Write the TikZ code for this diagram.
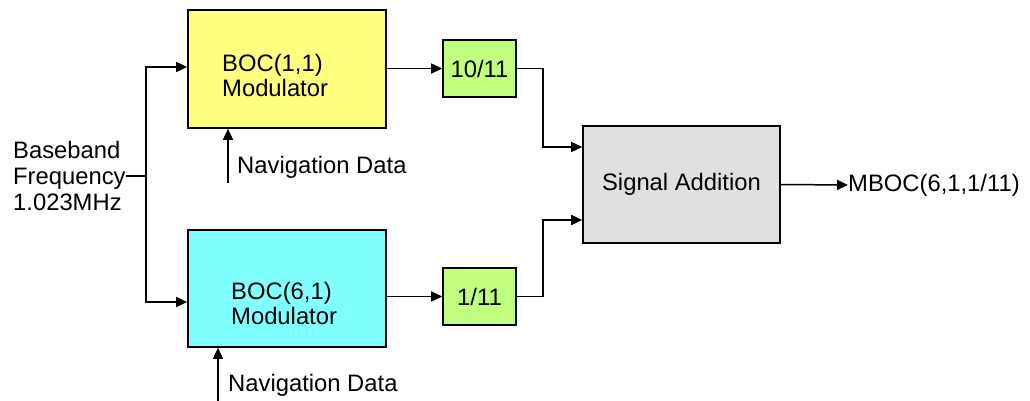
\documentclass[tikz,border=0pt]{standalone}
\usepackage{fontspec}
\setmainfont{Liberation Sans}
\usetikzlibrary{arrows.meta}
\definecolor{modyellow}{HTML}{FFFF80}
\definecolor{modcyan}{HTML}{80FFFF}
\definecolor{gaingreen}{HTML}{C0FF80}
\definecolor{sumgray}{HTML}{E0E0E0}
\begin{document}
\begin{tikzpicture}[
  x={(1pt,0pt)},
  y={(0pt,-1pt)},
  font=\fontsize{23.8}{25}\selectfont,
  box/.style={draw, line width=1.6pt, inner sep=0pt},
  txt/.style={inner sep=0pt, align=left, anchor=west},
  arr/.style={line width=1.5pt, -{Triangle[length=11pt,width=10pt]}},
  wire/.style={line width=1.5pt}
]
\useasboundingbox (0,0) rectangle (1030,401);
% blocks
\node[box, fill=modyellow, minimum width=198, minimum height=118] (boc1) at (287,69) {};
\node[box, fill=modcyan, minimum width=198, minimum height=117] (boc6) at (287,288.5) {};
\node[box, fill=gaingreen, minimum width=73, minimum height=57] (g1) at (479.5,68.5) {10/11};
\node[box, fill=gaingreen, minimum width=73, minimum height=57] (g2) at (479.5,296.5) {1/11};
\node[box, fill=sumgray, minimum width=197, minimum height=117] (sum) at (681.5,184.5) {Signal Addition};
\node[txt] (boc1t) at (222,75) {BOC(1,1)\\Modulator};
\node[txt] (boc6t) at (231,303) {BOC(6,1)\\Modulator};
% texts outside
\node[txt, font=\fontsize{23.8}{26}\selectfont] (bb) at (13,176) {Baseband\\Frequency\\1.023MHz};
\node[txt] (nav1) at (237,167) {Navigation Data};
\node[txt] (nav6) at (228,385) {Navigation Data};
\node[txt] (out) at (848,185) {MBOC(6,1,1/11)};
% wires
\coordinate (split) at (146,176);
\coordinate (n1) at (228,183);
\coordinate (n6) at (218,401);
\draw[wire] (bb.east) -- (split);
\draw[arr] (split) |- ([yshift=2pt]boc1.west);
\draw[arr] (split) |- ([yshift=-13.5pt]boc6.west);
\draw[arr] (n1) -- (n1 |- boc1.south);
\draw[arr] (n6) -- (n6 |- boc6.south);
\draw[arr] (boc1.east |- g1.west) -- (g1.west);
\draw[arr] (boc6.east |- g2.west) -- (g2.west);
\draw[arr] (g1.east) -- ++(26,0) |- ([yshift=37.5pt]sum.west);
\draw[arr] (g2.east) -- ++(26,0) |- ([yshift=-35.5pt]sum.west);
\draw[arr] (sum.east) -- (out.west);
\end{tikzpicture}
\end{document}
